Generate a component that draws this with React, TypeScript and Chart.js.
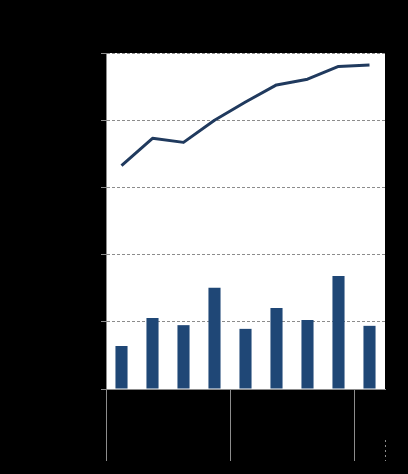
import React, { useEffect, useRef } from "react";
import { Chart, registerables } from "chart.js";

Chart.register(...registerables);

const categories = ["Q1", "Q2", "Q3", "Q4", "Q1", "Q2", "Q3", "Q4", "Q1"];
const groups = ["2022", "2023", "2024"];
const groupStarts = [0, 4, 8];
const barValues = [12.8, 21.1, 19.0, 30.1, 17.9, 24.1, 20.5, 33.6, 18.8];
const lineValues = [66.5, 74.6, 73.4, 80.0, 85.4, 90.5, 92.2, 96.0, 96.4];
const yTicks = [0, 20, 40, 60, 80, 100];

export default function App() {
  const ref = useRef<HTMLCanvasElement | null>(null);

  useEffect(() => {
    document.body.style.background = "#000";
    const canvas = ref.current;
    if (!canvas) return;

    const plotBg = {
      id: "plotBg",
      beforeDraw(chart: any) {
        const { ctx, chartArea } = chart;
        ctx.save();
        ctx.fillStyle = "#ffffff";
        ctx.fillRect(chartArea.left, chartArea.top, chartArea.right - chartArea.left, chartArea.bottom - chartArea.top);
        ctx.restore();
      },
    };

    const groupLines = {
      id: "groupLines",
      afterDraw(chart: any) {
        const { ctx, chartArea } = chart;
        const xs = chart.scales.x;
        const bottom = 461;
        ctx.save();
        ctx.strokeStyle = "#8c8c8c";
        ctx.lineWidth = 1;
        const bounds: number[] = groupStarts.map((s) =>
          s === 0 ? chartArea.left : (xs.getPixelForValue(s - 1) + xs.getPixelForValue(s)) / 2
        );
        bounds.forEach((bx) => {
          ctx.beginPath();
          ctx.moveTo(Math.round(bx) + 0.5, chartArea.bottom);
          ctx.lineTo(Math.round(bx) + 0.5, bottom);
          ctx.stroke();
        });
        // group labels (text)
        ctx.fillStyle = "#000";
        ctx.font = "12px Arial, 'Liberation Sans', sans-serif";
        ctx.textAlign = "center";
        groups.forEach((g, i) => {
          const l = bounds[i];
          const r = i + 1 < bounds.length ? bounds[i + 1] : chartArea.right;
          ctx.fillText(g, (l + r) / 2, 440);
        });
        ctx.setLineDash([2, 3]);
        ctx.beginPath();
        ctx.moveTo(Math.round(chartArea.right) + 0.5, 440);
        ctx.lineTo(Math.round(chartArea.right) + 0.5, bottom);
        ctx.stroke();
        ctx.restore();
      },
    };

    const chart = new Chart(canvas, {
      type: "bar",
      data: {
        labels: categories,
        datasets: [
          {
            type: "line",
            data: lineValues,
            borderColor: "#203a5e",
            backgroundColor: "#203a5e",
            borderWidth: 3,
            pointRadius: 0,
            tension: 0,
            borderJoinStyle: "round",
            order: 0,
          } as any,
          {
            type: "bar",
            data: barValues,
            backgroundColor: "#1f4776",
            barPercentage: 0.39,
            categoryPercentage: 1,
            order: 1,
          },
        ],
      },
      options: {
        responsive: false,
        animation: false,
        layout: { padding: { left: 0, top: 53, right: 23, bottom: 0 } },
        plugins: { legend: { display: false }, tooltip: { enabled: false } },
        scales: {
          x: {
            grid: { display: false },
            border: { display: true, color: "#8c8c8c", width: 1 },
            ticks: { color: "#000", font: { size: 12, family: "Arial, 'Liberation Sans', sans-serif" }, padding: 8 },
            afterFit(scale: any) {
              scale.height = 474 - 389;
            },
          },
          y: {
            min: 0,
            max: 100,
            afterBuildTicks(scale: any) {
              scale.ticks = yTicks.map((v) => ({ value: v }));
            },
            grid: { color: "#8c8c8c", tickColor: "#8c8c8c", tickLength: 5, lineWidth: 1 },
            border: { display: true, color: "#8c8c8c", width: 1, dash: [3, 2] },
            ticks: { color: "#000", font: { size: 12, family: "Arial, 'Liberation Sans', sans-serif" } },
            afterFit(scale: any) {
              scale.width = 106;
            },
          },
        },
      },
      plugins: [plotBg, groupLines],
    });

    return () => chart.destroy();
  }, []);

  return (
    <div style={{ position: "fixed", left: 0, top: 0, width: 408, height: 474, background: "#000" }}>
      <canvas ref={ref} width={408} height={474} style={{ display: "block" }} />
    </div>
  );
}
